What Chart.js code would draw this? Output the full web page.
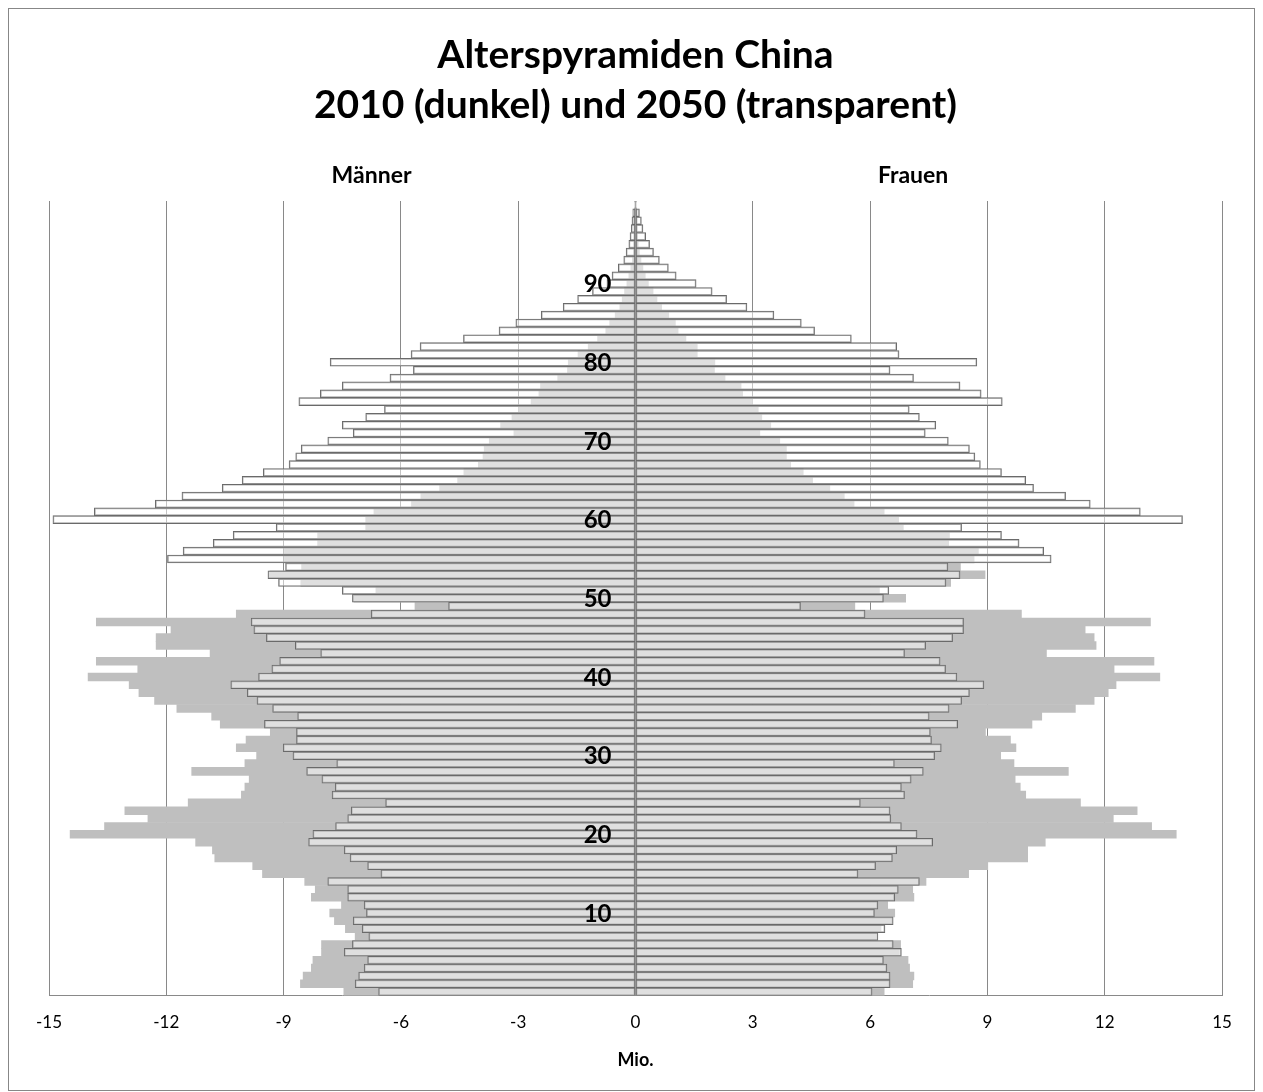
<!DOCTYPE html>
<html lang="de">
<head>
<meta charset="utf-8">
<title>Alterspyramiden China</title>
<script src="https://cdn.jsdelivr.net/npm/chart.js@4.4.1/dist/chart.umd.min.js"></script>
<style>
  html, body { margin: 0; padding: 0; background: #ffffff; }
  #wrap { width: 1263px; height: 1092px; }
</style>
</head>
<body>
<div id="wrap"><canvas id="pyramid" width="1263" height="1092"></canvas></div>
<script>
// Age groups 0 .. 100 (one bar per year of age)
const ages = Array.from({ length: 101 }, (_, i) => String(i));

// Ages that carry a label on the centre axis
const ageTickLabels = ['10', '20', '30', '40', '50', '60', '70', '80', '90'];

// Population axis ticks (millions)
const valueTicks = [-15, -12, -9, -6, -3, 0, 3, 6, 9, 12, 15];

const titleLines = ['Alterspyramiden China', '2010 (dunkel) und 2050 (transparent)'];
const sideLabels = ['Männer', 'Frauen'];
const unitLabel = 'Mio.';

// Men 2010, millions (negative = left side), age 0 .. 100
const men2010 = [
  -7.46, -8.57, -8.5, -8.29, -8.25, -8.03, -8.03, -7.17, -7.42, -7.7,
  -7.82, -7.52, -8.29, -8.19, -8.46, -9.54, -9.79, -10.76, -10.82, -11.25,
  -14.46, -13.58, -12.47, -13.06, -11.44, -10.08, -9.99, -9.88, -11.35, -9.99,
  -9.69, -10.21, -9.96, -9.34, -10.62, -10.84, -11.73, -12.3, -12.7, -12.95,
  -14.0, -12.73, -13.79, -10.88, -12.26, -12.26, -11.88, -13.79, -10.21, -5.64,
  -7.2, -6.64, -8.56, -9.35, -8.54, -8.98, -8.98, -8.13, -8.13, -6.9,
  -6.9, -6.69, -5.73, -5.49, -5.01, -4.55, -4.39, -4.02, -3.9, -3.87,
  -3.74, -3.11, -3.45, -3.16, -2.99, -2.67, -2.47, -2.43, -1.99, -1.74,
  -1.72, -1.47, -1.21, -0.97, -0.76, -0.66, -0.52, -0.4, -0.34, -0.28,
  -0.22, -0.17, -0.12, -0.08, -0.05, -0.04, -0.03, -0.02, -0.01, -0.01,
  -0.01
];

// Women 2010, millions, age 0 .. 100
const women2010 = [
  6.36, 7.09, 7.12, 7.01, 6.97, 6.75, 6.78, 6.15, 6.28, 6.57,
  6.63, 6.45, 7.12, 7.09, 7.43, 8.52, 9.01, 10.03, 10.03, 10.48,
  13.83, 13.2, 12.22, 12.83, 11.38, 9.98, 9.84, 9.71, 11.07, 9.68,
  9.34, 9.73, 9.59, 8.95, 10.14, 10.39, 11.25, 11.73, 12.09, 12.29,
  13.41, 12.24, 13.26, 10.51, 11.78, 11.73, 11.5, 13.17, 9.87, 5.61,
  6.91, 6.24, 8.06, 8.94, 8.31, 8.66, 8.77, 8.01, 8.03, 6.85,
  6.73, 6.36, 5.59, 5.34, 4.97, 4.53, 4.29, 3.97, 3.86, 3.86,
  3.69, 3.18, 3.46, 3.23, 3.14, 2.99, 2.74, 2.7, 2.29, 2.02,
  2.03, 1.58, 1.58, 1.29, 1.09, 1.02, 0.85, 0.67, 0.55, 0.45,
  0.33, 0.25, 0.19, 0.14, 0.1, 0.07, 0.05, 0.04, 0.03, 0.02,
  0.01
];

// Men 2050 (projection), millions, age 0 .. 100
const men2050 = [
  -6.57, -7.17, -7.08, -6.94, -6.85, -7.45, -7.24, -6.82, -6.99, -7.22,
  -6.88, -6.94, -7.36, -7.36, -7.87, -6.51, -6.85, -7.3, -7.45, -8.36,
  -8.25, -7.67, -7.36, -7.27, -6.39, -7.76, -7.68, -8.02, -8.41, -7.64,
  -8.76, -9.01, -8.67, -8.67, -9.49, -8.64, -9.28, -9.68, -9.93, -10.35,
  -9.64, -9.3, -9.1, -8.05, -8.7, -9.44, -9.76, -9.83, -6.76, -4.78,
  -7.24, -7.5, -9.13, -9.4, -8.95, -11.97, -11.57, -10.8, -10.29, -9.19,
  -14.9, -13.84, -12.28, -11.6, -10.57, -10.06, -9.52, -8.86, -8.69, -8.55,
  -7.87, -7.22, -7.5, -6.9, -6.42, -8.61, -8.06, -7.5, -6.28, -5.68,
  -7.81, -5.74, -5.51, -4.4, -3.49, -3.06, -2.41, -1.85, -1.48, -1.1,
  -0.73, -0.6, -0.44, -0.3, -0.24, -0.17, -0.14, -0.11, -0.09, -0.07,
  -0.02
];

// Women 2050 (projection), millions, age 0 .. 100
const women2050 = [
  6.05, 6.51, 6.51, 6.43, 6.34, 6.8, 6.59, 6.2, 6.38, 6.59,
  6.11, 6.2, 6.63, 6.72, 7.26, 5.69, 6.14, 6.57, 6.68, 7.6,
  7.2, 6.8, 6.53, 6.51, 5.75, 6.88, 6.8, 7.05, 7.36, 6.62,
  7.65, 7.82, 7.57, 7.54, 8.24, 7.51, 8.02, 8.34, 8.54, 8.91,
  8.22, 7.93, 7.79, 6.88, 7.42, 8.11, 8.39, 8.39, 5.87, 4.22,
  6.34, 6.48, 7.94, 8.3, 7.99, 10.63, 10.44, 9.81, 9.36, 8.34,
  13.99, 12.91, 11.63, 11.0, 10.18, 9.98, 9.36, 8.82, 8.68, 8.54,
  8.0, 7.41, 7.68, 7.26, 7.0, 9.38, 8.84, 8.3, 7.11, 6.51,
  8.73, 6.74, 6.68, 5.52, 4.58, 4.24, 3.54, 2.85, 2.33, 1.96,
  1.55, 1.04, 0.84, 0.61, 0.46, 0.36, 0.26, 0.19, 0.15, 0.1,
  0.02
];

const FONT = 'Lato, "Open Sans", "DejaVu Sans", sans-serif';
Chart.defaults.font.family = FONT;
Chart.defaults.color = '#000000';

const GRID = '#898989';
const FILL_2010 = '#bfbfbf';
const FILL_2050 = 'rgba(255,255,255,0.5)';
const EDGE_2050 = '#6a6a6a';

// Background, frame, headings, unit label and the age labels on the centre axis
const decor = {
  id: 'decor',
  beforeDraw(chart) {
    const { ctx, width, height } = chart;
    ctx.save();
    ctx.fillStyle = '#ffffff';
    ctx.fillRect(0, 0, width, height);
    ctx.strokeStyle = '#878787';
    ctx.lineWidth = 1;
    ctx.strokeRect(8.5, 8.5, width - 17, height - 10);
    ctx.restore();
  },
  afterDatasetsDraw(chart) {
    const { ctx, scales: { x, y } } = chart;
    ctx.save();
    ctx.font = 'bold 24px ' + FONT;
    ctx.fillStyle = '#000000';
    ctx.textAlign = 'right';
    ctx.textBaseline = 'middle';
    const xr = x.getPixelForValue(0) - 24;
    ageTickLabels.forEach(lbl => {
      ctx.fillText(lbl, xr, y.getPixelForValue(ages.indexOf(lbl)) + 1);
    });
    ctx.restore();
  },
  afterDraw(chart) {
    const { ctx, chartArea, scales: { x } } = chart;
    const cx = x.getPixelForValue(0);
    ctx.save();
    ctx.fillStyle = '#000000';
    ctx.textAlign = 'center';
    ctx.textBaseline = 'middle';
    ctx.font = 'bold 39px ' + FONT;
    ctx.fillText(titleLines[0], cx, 55);
    ctx.fillText(titleLines[1], cx, 105);
    ctx.font = 'bold 23px ' + FONT;
    ctx.fillText(sideLabels[0], x.getPixelForValue(-6.75), 176);
    ctx.fillText(sideLabels[1], x.getPixelForValue(7.1), 176);
    ctx.font = 'bold 18px ' + FONT;
    ctx.fillText(unitLabel, cx, chartArea.bottom + 65);
    ctx.restore();
  }
};

const barCommon = {
  grouped: false,
  barPercentage: 1,
  categoryPercentage: 1
};

new Chart(document.getElementById('pyramid'), {
  type: 'bar',
  data: {
    labels: ages,
    datasets: [
      { ...barCommon, label: 'Männer 2050', data: men2050, backgroundColor: FILL_2050,
        borderColor: EDGE_2050, borderWidth: 1, borderSkipped: false, order: 0 },
      { ...barCommon, label: 'Frauen 2050', data: women2050, backgroundColor: FILL_2050,
        borderColor: EDGE_2050, borderWidth: 1, borderSkipped: false, order: 0 },
      { ...barCommon, label: 'Männer 2010', data: men2010, backgroundColor: FILL_2010,
        borderWidth: 0, order: 1 },
      { ...barCommon, label: 'Frauen 2010', data: women2010, backgroundColor: FILL_2010,
        borderWidth: 0, order: 1 }
    ]
  },
  options: {
    indexAxis: 'y',
    responsive: false,
    animation: false,
    devicePixelRatio: 1,
    layout: { padding: { left: 49, right: 41, top: 201, bottom: 42 } },
    plugins: {
      legend: { display: false },
      tooltip: { enabled: false },
      title: { display: false }
    },
    scales: {
      x: {
        type: 'linear',
        min: -15,
        max: 15,
        afterBuildTicks(scale) {
          scale.ticks = valueTicks.map(v => ({ value: v }));
        },
        ticks: {
          padding: 17,
          font: { size: 17 },
          color: '#000000',
          callback: v => String(v)
        },
        grid: { color: GRID, lineWidth: 1, drawTicks: false },
        border: { display: true, color: GRID, width: 1 }
      },
      y: {
        type: 'category',
        axis: 'y',
        labels: ages,
        reverse: true,
        offset: true,
        position: { x: 0 },
        z: 1,
        grid: { display: false, drawTicks: false },
        ticks: { display: false },
        border: { display: true, color: '#7a7a7a', width: 1 }
      }
    }
  },
  plugins: [decor]
});
</script>
</body>
</html>
